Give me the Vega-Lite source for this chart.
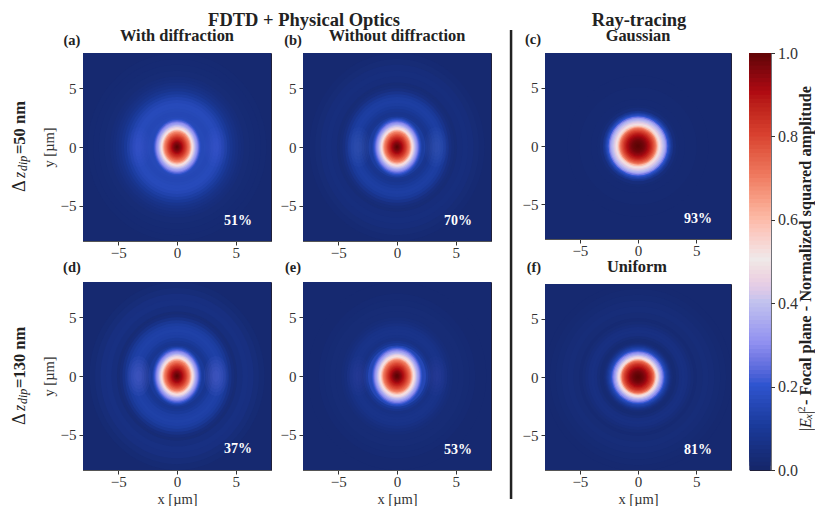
{"$schema":"https://vega.github.io/schema/vega-lite/v6.json","padding":{"left":10,"top":10,"right":0,"bottom":0},"background":"white","spacing":16.5,
"config":{"view":{"stroke":"#20203a","strokeWidth":1},"axis":{"labelFont":"Liberation Serif","titleFont":"Liberation Serif","labelFontSize":15,"titleFontSize":14.5,"titleFontWeight":"normal","labelColor":"#333333","titleColor":"#333333","grid":false,"tickColor":"#333333","tickSize":4,"domainColor":"#555555","values":[-5,0,5],"format":"d"},"axisX":{"labelPadding":0,"titlePadding":3},"axisY":{"labelPadding":3},"text":{"font":"Liberation Serif","color":"#222222"}},
"datasets":{
"a":[{"r":16,"v":0.012},{"r":8,"v":0.015},{"r":7.5,"v":0.018},{"r":7,"v":0.02},{"r":6.5,"v":0.025},{"r":6,"v":0.032},{"r":5.75,"v":0.04},{"r":5.5,"v":0.05},{"r":5.25,"v":0.06},{"r":5,"v":0.075},{"r":4.75,"v":0.095},{"r":4.5,"v":0.115},{"r":4.25,"v":0.135},{"r":4,"v":0.15},{"r":3.75,"v":0.16},{"r":3.5,"v":0.16},{"r":3.25,"v":0.155},{"r":3,"v":0.15},{"r":2.8,"v":0.15},{"r":2.6,"v":0.155},{"r":2.5,"v":0.16},{"r":2.4,"v":0.18},{"r":2.3,"v":0.22},{"r":2.2,"v":0.26},{"r":2.1,"v":0.3},{"r":2,"v":0.33},{"r":1.9,"v":0.37},{"r":1.8,"v":0.41},{"r":1.7,"v":0.46},{"r":1.6,"v":0.51},{"r":1.5,"v":0.57},{"r":1.4,"v":0.635},{"r":1.3,"v":0.69},{"r":1.2,"v":0.72},{"r":1.1,"v":0.755},{"r":1,"v":0.79},{"r":0.9,"v":0.82},{"r":0.8,"v":0.85},{"r":0.7,"v":0.875},{"r":0.6,"v":0.9},{"r":0.5,"v":0.93},{"r":0.4,"v":0.95},{"r":0.3,"v":0.97},{"r":0.2,"v":0.985},{"r":0.1,"v":0.995},{"r":0.05,"v":1}],
"b":[{"r":16,"v":0.012},{"r":8,"v":0.018},{"r":7.5,"v":0.025},{"r":7,"v":0.035},{"r":6.5,"v":0.04},{"r":6,"v":0.035},{"r":5.5,"v":0.025},{"r":5.25,"v":0.03},{"r":5,"v":0.045},{"r":4.75,"v":0.07},{"r":4.5,"v":0.095},{"r":4.25,"v":0.11},{"r":4,"v":0.115},{"r":3.75,"v":0.11},{"r":3.5,"v":0.1},{"r":3.25,"v":0.085},{"r":3,"v":0.075},{"r":2.8,"v":0.08},{"r":2.6,"v":0.11},{"r":2.5,"v":0.14},{"r":2.4,"v":0.175},{"r":2.3,"v":0.215},{"r":2.2,"v":0.255},{"r":2.1,"v":0.295},{"r":2,"v":0.33},{"r":1.9,"v":0.37},{"r":1.8,"v":0.41},{"r":1.7,"v":0.46},{"r":1.6,"v":0.515},{"r":1.5,"v":0.575},{"r":1.4,"v":0.64},{"r":1.3,"v":0.695},{"r":1.2,"v":0.725},{"r":1.1,"v":0.76},{"r":1,"v":0.795},{"r":0.9,"v":0.825},{"r":0.8,"v":0.855},{"r":0.7,"v":0.88},{"r":0.6,"v":0.905},{"r":0.5,"v":0.93},{"r":0.4,"v":0.95},{"r":0.3,"v":0.97},{"r":0.2,"v":0.985},{"r":0.1,"v":0.995},{"r":0.05,"v":1}],
"c":[{"r":16,"v":0.012},{"r":6,"v":0.012},{"r":5,"v":0.015},{"r":4,"v":0.018},{"r":3.5,"v":0.02},{"r":3.25,"v":0.035},{"r":3,"v":0.07},{"r":2.9,"v":0.09},{"r":2.8,"v":0.125},{"r":2.7,"v":0.16},{"r":2.6,"v":0.2},{"r":2.5,"v":0.26},{"r":2.4,"v":0.32},{"r":2.3,"v":0.36},{"r":2.2,"v":0.39},{"r":2.1,"v":0.42},{"r":2,"v":0.45},{"r":1.9,"v":0.485},{"r":1.8,"v":0.54},{"r":1.7,"v":0.6},{"r":1.6,"v":0.68},{"r":1.5,"v":0.73},{"r":1.4,"v":0.77},{"r":1.3,"v":0.805},{"r":1.2,"v":0.84},{"r":1.1,"v":0.87},{"r":1,"v":0.895},{"r":0.9,"v":0.915},{"r":0.8,"v":0.935},{"r":0.7,"v":0.95},{"r":0.6,"v":0.965},{"r":0.5,"v":0.975},{"r":0.4,"v":0.985},{"r":0.3,"v":0.99},{"r":0.2,"v":0.995},{"r":0.1,"v":1}],
"d":[{"r":16,"v":0.012},{"r":8,"v":0.02},{"r":7.5,"v":0.03},{"r":7,"v":0.045},{"r":6.5,"v":0.05},{"r":6,"v":0.04},{"r":5.5,"v":0.025},{"r":5.25,"v":0.035},{"r":5,"v":0.06},{"r":4.75,"v":0.09},{"r":4.5,"v":0.11},{"r":4.25,"v":0.12},{"r":4,"v":0.125},{"r":3.75,"v":0.12},{"r":3.5,"v":0.115},{"r":3.25,"v":0.1},{"r":3,"v":0.085},{"r":2.8,"v":0.08},{"r":2.6,"v":0.1},{"r":2.5,"v":0.13},{"r":2.4,"v":0.17},{"r":2.3,"v":0.215},{"r":2.2,"v":0.255},{"r":2.1,"v":0.295},{"r":2,"v":0.33},{"r":1.9,"v":0.37},{"r":1.8,"v":0.415},{"r":1.7,"v":0.465},{"r":1.6,"v":0.52},{"r":1.5,"v":0.58},{"r":1.4,"v":0.64},{"r":1.3,"v":0.695},{"r":1.2,"v":0.725},{"r":1.1,"v":0.76},{"r":1,"v":0.795},{"r":0.9,"v":0.825},{"r":0.8,"v":0.855},{"r":0.7,"v":0.88},{"r":0.6,"v":0.905},{"r":0.5,"v":0.93},{"r":0.4,"v":0.95},{"r":0.3,"v":0.97},{"r":0.2,"v":0.985},{"r":0.1,"v":0.995},{"r":0.05,"v":1}],
"e":[{"r":16,"v":0.012},{"r":8,"v":0.012},{"r":7,"v":0.018},{"r":6.5,"v":0.02},{"r":6,"v":0.025},{"r":5.5,"v":0.025},{"r":5,"v":0.03},{"r":4.75,"v":0.04},{"r":4.5,"v":0.05},{"r":4.25,"v":0.06},{"r":4,"v":0.065},{"r":3.75,"v":0.065},{"r":3.5,"v":0.06},{"r":3.25,"v":0.055},{"r":3,"v":0.07},{"r":2.8,"v":0.1},{"r":2.6,"v":0.15},{"r":2.5,"v":0.185},{"r":2.4,"v":0.225},{"r":2.3,"v":0.27},{"r":2.2,"v":0.31},{"r":2.1,"v":0.34},{"r":2,"v":0.38},{"r":1.9,"v":0.42},{"r":1.8,"v":0.465},{"r":1.7,"v":0.515},{"r":1.6,"v":0.57},{"r":1.5,"v":0.63},{"r":1.4,"v":0.69},{"r":1.3,"v":0.725},{"r":1.2,"v":0.755},{"r":1.1,"v":0.785},{"r":1,"v":0.815},{"r":0.9,"v":0.845},{"r":0.8,"v":0.87},{"r":0.7,"v":0.895},{"r":0.6,"v":0.915},{"r":0.5,"v":0.94},{"r":0.4,"v":0.96},{"r":0.3,"v":0.975},{"r":0.2,"v":0.99},{"r":0.1,"v":0.998}],
"f":[{"r":16,"v":0.012},{"r":8,"v":0.012},{"r":7.5,"v":0.015},{"r":7,"v":0.02},{"r":6.5,"v":0.027},{"r":6,"v":0.03},{"r":5.5,"v":0.025},{"r":5,"v":0.018},{"r":4.75,"v":0.025},{"r":4.5,"v":0.035},{"r":4.25,"v":0.045},{"r":4,"v":0.05},{"r":3.75,"v":0.045},{"r":3.5,"v":0.03},{"r":3.25,"v":0.02},{"r":3,"v":0.025},{"r":2.9,"v":0.035},{"r":2.8,"v":0.05},{"r":2.7,"v":0.075},{"r":2.6,"v":0.1},{"r":2.5,"v":0.125},{"r":2.4,"v":0.15},{"r":2.3,"v":0.2},{"r":2.2,"v":0.25},{"r":2.1,"v":0.3},{"r":2,"v":0.34},{"r":1.9,"v":0.385},{"r":1.8,"v":0.43},{"r":1.7,"v":0.48},{"r":1.6,"v":0.54},{"r":1.5,"v":0.63},{"r":1.4,"v":0.72},{"r":1.3,"v":0.765},{"r":1.2,"v":0.805},{"r":1.1,"v":0.84},{"r":1,"v":0.87},{"r":0.9,"v":0.895},{"r":0.8,"v":0.92},{"r":0.7,"v":0.94},{"r":0.6,"v":0.955},{"r":0.5,"v":0.97},{"r":0.4,"v":0.98},{"r":0.3,"v":0.99},{"r":0.2,"v":0.995},{"r":0.1,"v":1}],
"lobes":[{"x":-3.25,"r":1.7},{"x":3.3,"r":1.7},{"x":-3.25,"r":1.4},{"x":3.3,"r":1.4},{"x":-3.25,"r":1.1},{"x":3.3,"r":1.1},{"x":-3.25,"r":0.8},{"x":3.3,"r":0.8},{"x":-3.25,"r":0.5},{"x":3.3,"r":0.5}],
"ramp":[{"v":0},{"v":0.01},{"v":0.02},{"v":0.03},{"v":0.04},{"v":0.05},{"v":0.06},{"v":0.07},{"v":0.08},{"v":0.09},{"v":0.1},{"v":0.11},{"v":0.12},{"v":0.13},{"v":0.14},{"v":0.15},{"v":0.16},{"v":0.17},{"v":0.18},{"v":0.19},{"v":0.2},{"v":0.21},{"v":0.22},{"v":0.23},{"v":0.24},{"v":0.25},{"v":0.26},{"v":0.27},{"v":0.28},{"v":0.29},{"v":0.3},{"v":0.31},{"v":0.32},{"v":0.33},{"v":0.34},{"v":0.35},{"v":0.36},{"v":0.37},{"v":0.38},{"v":0.39},{"v":0.4},{"v":0.41},{"v":0.42},{"v":0.43},{"v":0.44},{"v":0.45},{"v":0.46},{"v":0.47},{"v":0.48},{"v":0.49},{"v":0.5},{"v":0.51},{"v":0.52},{"v":0.53},{"v":0.54},{"v":0.55},{"v":0.56},{"v":0.57},{"v":0.58},{"v":0.59},{"v":0.6},{"v":0.61},{"v":0.62},{"v":0.63},{"v":0.64},{"v":0.65},{"v":0.66},{"v":0.67},{"v":0.68},{"v":0.69},{"v":0.7},{"v":0.71},{"v":0.72},{"v":0.73},{"v":0.74},{"v":0.75},{"v":0.76},{"v":0.77},{"v":0.78},{"v":0.79},{"v":0.8},{"v":0.81},{"v":0.82},{"v":0.83},{"v":0.84},{"v":0.85},{"v":0.86},{"v":0.87},{"v":0.88},{"v":0.89},{"v":0.9},{"v":0.91},{"v":0.92},{"v":0.93},{"v":0.94},{"v":0.95},{"v":0.96},{"v":0.97},{"v":0.98},{"v":0.99}]
},
"hconcat":[
{"spacing":17,"hconcat":[
{"spacing":-65,"hconcat":[
{"bounds":"flush","spacing":41,"vconcat":[
{"width":188,"height":188,"layer":[
{"data":{"name":"a"},"encoding":{"x":{"datum":0,"type":"quantitative","scale":{"domain":[-8,8],"nice":false},"axis":{"title":null}},"y":{"datum":0,"type":"quantitative","scale":{"domain":[-8,8],"nice":false},"axis":{"title":"y [µm]"}},"size":{"field":"r","type":"quantitative","legend":null,"scale":{"type":"pow","exponent":2,"domain":[0,12],"range":[0,79524]}},"color":{"field":"v","type":"quantitative","legend":null,"scale":{"domain":[0,0.1,0.2,0.3,0.4,0.5,0.6,0.7,0.8,0.9,1],"range":["#15276b","#1a3a9a","#2f55d0","#9090f0","#c3c3ee","#efe9e9","#fcb9a5","#ef7a60","#d8402f","#b00b12","#5c0505"]}}},"layer":[
{"transform":[{"filter":"datum.r>2.5"}],"mark":{"type":"point","filled":true,"opacity":1,"strokeWidth":0,"clip":true,"shape":"M0,-1A0.95,1 0 1,1 0,1A0.95,1 0 1,1 0,-1Z"}},
{"transform":[{"filter":"datum.r<=2.5"}],"mark":{"type":"point","filled":true,"opacity":1,"strokeWidth":0,"clip":true,"shape":"M0,-1A0.84,1 0 1,1 0,1A0.84,1 0 1,1 0,-1Z"}}]},
{"data":{"name":"lobes"},"mark":{"type":"point","filled":true,"opacity":0.03,"strokeWidth":0,"fill":"#7a80f0","shape":"M0,-1A0.6,1 0 1,1 0,1A0.6,1 0 1,1 0,-1Z"},"encoding":{"x":{"field":"x","type":"quantitative"},"y":{"datum":0,"type":"quantitative"},"size":{"field":"r","type":"quantitative"}}},
{"data":{"values":[{"x":-8.94,"y":9.06,"t":"(a)"}]},"mark":{"type":"text","fontWeight":"bold","fontSize":14.5},"encoding":{"x":{"field":"x","type":"quantitative"},"y":{"field":"y","type":"quantitative"},"text":{"field":"t"}}},
{"data":{"values":[{"x":0,"y":9.45,"t":"With diffraction"}]},"mark":{"type":"text","fontWeight":"bold","fontSize":16.4},"encoding":{"x":{"field":"x","type":"quantitative"},"y":{"field":"y","type":"quantitative"},"text":{"field":"t"}}},
{"data":{"values":[{"x":0,"y":10.81,"t":"."}]},"mark":{"type":"text","fontWeight":"bold","fontSize":18.5,"opacity":0},"encoding":{"x":{"field":"x","type":"quantitative"},"y":{"field":"y","type":"quantitative"},"text":{"field":"t"}}},
{"data":{"values":[{"x":5.19,"y":-6.3,"t":"51%"}]},"mark":{"type":"text","fontWeight":"bold","fontSize":14,"color":"white"},"encoding":{"x":{"field":"x","type":"quantitative"},"y":{"field":"y","type":"quantitative"},"text":{"field":"t"}}},
{"data":{"values":[{"x":-13.36,"y":-3.83,"t":"Δ"}]},"mark":{"type":"text","angle":270,"align":"left","fontSize":18},"encoding":{"x":{"field":"x","type":"quantitative"},"y":{"field":"y","type":"quantitative"},"text":{"field":"t"}}},
{"data":{"values":[{"x":-13.36,"y":-2.64,"t":"z"}]},"mark":{"type":"text","angle":270,"align":"left","fontSize":16,"fontStyle":"italic"},"encoding":{"x":{"field":"x","type":"quantitative"},"y":{"field":"y","type":"quantitative"},"text":{"field":"t"}}},
{"data":{"values":[{"x":-13.1,"y":-2.04,"t":"dip"}]},"mark":{"type":"text","angle":270,"align":"left","fontSize":12,"fontStyle":"italic"},"encoding":{"x":{"field":"x","type":"quantitative"},"y":{"field":"y","type":"quantitative"},"text":{"field":"t"}}},
{"data":{"values":[{"x":-13.36,"y":-0.6,"t":"=50 nm"}]},"mark":{"type":"text","angle":270,"align":"left","fontSize":16.5,"fontWeight":"bold"},"encoding":{"x":{"field":"x","type":"quantitative"},"y":{"field":"y","type":"quantitative"},"text":{"field":"t"}}}
]},
{"width":188,"height":188,"layer":[
{"data":{"name":"d"},"encoding":{"x":{"datum":0,"type":"quantitative","scale":{"domain":[-8,8],"nice":false},"axis":{"title":"x [µm]"}},"y":{"datum":0,"type":"quantitative","scale":{"domain":[-8,8],"nice":false},"axis":{"title":"y [µm]"}},"size":{"field":"r","type":"quantitative","legend":null,"scale":{"type":"pow","exponent":2,"domain":[0,12],"range":[0,79524]}},"color":{"field":"v","type":"quantitative","legend":null,"scale":{"domain":[0,0.1,0.2,0.3,0.4,0.5,0.6,0.7,0.8,0.9,1],"range":["#15276b","#1a3a9a","#2f55d0","#9090f0","#c3c3ee","#efe9e9","#fcb9a5","#ef7a60","#d8402f","#b00b12","#5c0505"]}}},"layer":[
{"transform":[{"filter":"datum.r>2.5"}],"mark":{"type":"point","filled":true,"opacity":1,"strokeWidth":0,"clip":true,"shape":"M0,-1A0.93,1 0 1,1 0,1A0.93,1 0 1,1 0,-1Z"}},
{"transform":[{"filter":"datum.r<=2.5"}],"mark":{"type":"point","filled":true,"opacity":1,"strokeWidth":0,"clip":true,"shape":"M0,-1A0.84,1 0 1,1 0,1A0.84,1 0 1,1 0,-1Z"}}]},
{"data":{"name":"lobes"},"mark":{"type":"point","filled":true,"opacity":0.07,"strokeWidth":0,"fill":"#7a80f0","shape":"M0,-1A0.6,1 0 1,1 0,1A0.6,1 0 1,1 0,-1Z"},"encoding":{"x":{"field":"x","type":"quantitative"},"y":{"datum":0,"type":"quantitative"},"size":{"field":"r","type":"quantitative"}}},
{"data":{"values":[{"x":-8.94,"y":9.19,"t":"(d)"}]},"mark":{"type":"text","fontWeight":"bold","fontSize":14.5},"encoding":{"x":{"field":"x","type":"quantitative"},"y":{"field":"y","type":"quantitative"},"text":{"field":"t"}}},
{"data":{"values":[{"x":5.19,"y":-6.21,"t":"37%"}]},"mark":{"type":"text","fontWeight":"bold","fontSize":14,"color":"white"},"encoding":{"x":{"field":"x","type":"quantitative"},"y":{"field":"y","type":"quantitative"},"text":{"field":"t"}}},
{"data":{"values":[{"x":-13.36,"y":-4.17,"t":"Δ"}]},"mark":{"type":"text","angle":270,"align":"left","fontSize":18},"encoding":{"x":{"field":"x","type":"quantitative"},"y":{"field":"y","type":"quantitative"},"text":{"field":"t"}}},
{"data":{"values":[{"x":-13.36,"y":-2.98,"t":"z"}]},"mark":{"type":"text","angle":270,"align":"left","fontSize":16,"fontStyle":"italic"},"encoding":{"x":{"field":"x","type":"quantitative"},"y":{"field":"y","type":"quantitative"},"text":{"field":"t"}}},
{"data":{"values":[{"x":-13.1,"y":-2.38,"t":"dip"}]},"mark":{"type":"text","angle":270,"align":"left","fontSize":12,"fontStyle":"italic"},"encoding":{"x":{"field":"x","type":"quantitative"},"y":{"field":"y","type":"quantitative"},"text":{"field":"t"}}},
{"data":{"values":[{"x":-13.36,"y":-1.02,"t":"=130 nm"}]},"mark":{"type":"text","angle":270,"align":"left","fontSize":16.5,"fontWeight":"bold"},"encoding":{"x":{"field":"x","type":"quantitative"},"y":{"field":"y","type":"quantitative"},"text":{"field":"t"}}}
]}
]},
{"bounds":"flush","spacing":41,"vconcat":[
{"width":188,"height":188,"layer":[
{"data":{"name":"b"},"encoding":{"x":{"datum":0,"type":"quantitative","scale":{"domain":[-8,8],"nice":false},"axis":{"title":null}},"y":{"datum":0,"type":"quantitative","scale":{"domain":[-8,8],"nice":false},"axis":{"title":null}},"size":{"field":"r","type":"quantitative","legend":null,"scale":{"type":"pow","exponent":2,"domain":[0,12],"range":[0,79524]}},"color":{"field":"v","type":"quantitative","legend":null,"scale":{"domain":[0,0.1,0.2,0.3,0.4,0.5,0.6,0.7,0.8,0.9,1],"range":["#15276b","#1a3a9a","#2f55d0","#9090f0","#c3c3ee","#efe9e9","#fcb9a5","#ef7a60","#d8402f","#b00b12","#5c0505"]}}},"layer":[
{"transform":[{"filter":"datum.r>2.5"}],"mark":{"type":"point","filled":true,"opacity":1,"strokeWidth":0,"clip":true,"shape":"M0,-1A0.93,1 0 1,1 0,1A0.93,1 0 1,1 0,-1Z"}},
{"transform":[{"filter":"datum.r<=2.5"}],"mark":{"type":"point","filled":true,"opacity":1,"strokeWidth":0,"clip":true,"shape":"M0,-1A0.84,1 0 1,1 0,1A0.84,1 0 1,1 0,-1Z"}}]},
{"data":{"name":"lobes"},"mark":{"type":"point","filled":true,"opacity":0.045,"strokeWidth":0,"fill":"#7a80f0","shape":"M0,-1A0.6,1 0 1,1 0,1A0.6,1 0 1,1 0,-1Z"},"encoding":{"x":{"field":"x","type":"quantitative"},"y":{"datum":0,"type":"quantitative"},"size":{"field":"r","type":"quantitative"}}},
{"data":{"values":[{"x":-8.85,"y":9.06,"t":"(b)"}]},"mark":{"type":"text","fontWeight":"bold","fontSize":14.5},"encoding":{"x":{"field":"x","type":"quantitative"},"y":{"field":"y","type":"quantitative"},"text":{"field":"t"}}},
{"data":{"values":[{"x":0,"y":9.45,"t":"Without diffraction"}]},"mark":{"type":"text","fontWeight":"bold","fontSize":16.4},"encoding":{"x":{"field":"x","type":"quantitative"},"y":{"field":"y","type":"quantitative"},"text":{"field":"t"}}},
{"data":{"values":[{"x":-7.91,"y":10.81,"t":"FDTD + Physical Optics"}]},"mark":{"type":"text","fontWeight":"bold","fontSize":18.5},"encoding":{"x":{"field":"x","type":"quantitative"},"y":{"field":"y","type":"quantitative"},"text":{"field":"t"}}},
{"data":{"values":[{"x":5.19,"y":-6.3,"t":"70%"}]},"mark":{"type":"text","fontWeight":"bold","fontSize":14,"color":"white"},"encoding":{"x":{"field":"x","type":"quantitative"},"y":{"field":"y","type":"quantitative"},"text":{"field":"t"}}}
]},
{"width":188,"height":188,"layer":[
{"data":{"name":"e"},"encoding":{"x":{"datum":0,"type":"quantitative","scale":{"domain":[-8,8],"nice":false},"axis":{"title":"x [µm]"}},"y":{"datum":0,"type":"quantitative","scale":{"domain":[-8,8],"nice":false},"axis":{"title":null}},"size":{"field":"r","type":"quantitative","legend":null,"scale":{"type":"pow","exponent":2,"domain":[0,12],"range":[0,79524]}},"color":{"field":"v","type":"quantitative","legend":null,"scale":{"domain":[0,0.1,0.2,0.3,0.4,0.5,0.6,0.7,0.8,0.9,1],"range":["#15276b","#1a3a9a","#2f55d0","#9090f0","#c3c3ee","#efe9e9","#fcb9a5","#ef7a60","#d8402f","#b00b12","#5c0505"]}}},"layer":[
{"transform":[{"filter":"datum.r>2.5"}],"mark":{"type":"point","filled":true,"opacity":1,"strokeWidth":0,"clip":true,"shape":"M0,-1A0.95,1 0 1,1 0,1A0.95,1 0 1,1 0,-1Z"}},
{"transform":[{"filter":"datum.r<=2.5"}],"mark":{"type":"point","filled":true,"opacity":1,"strokeWidth":0,"clip":true,"shape":"M0,-1A0.86,1 0 1,1 0,1A0.86,1 0 1,1 0,-1Z"}}]},
{"data":{"name":"lobes"},"mark":{"type":"point","filled":true,"opacity":0.025,"strokeWidth":0,"fill":"#7a80f0","shape":"M0,-1A0.6,1 0 1,1 0,1A0.6,1 0 1,1 0,-1Z"},"encoding":{"x":{"field":"x","type":"quantitative"},"y":{"datum":0,"type":"quantitative"},"size":{"field":"r","type":"quantitative"}}},
{"data":{"values":[{"x":-8.85,"y":9.19,"t":"(e)"}]},"mark":{"type":"text","fontWeight":"bold","fontSize":14.5},"encoding":{"x":{"field":"x","type":"quantitative"},"y":{"field":"y","type":"quantitative"},"text":{"field":"t"}}},
{"data":{"values":[{"x":5.19,"y":-6.3,"t":"53%"}]},"mark":{"type":"text","fontWeight":"bold","fontSize":14,"color":"white"},"encoding":{"x":{"field":"x","type":"quantitative"},"y":{"field":"y","type":"quantitative"},"text":{"field":"t"}}}
]}
]}
]},
{"bounds":"flush","spacing":45,"vconcat":[
{"width":186,"height":186,"layer":[
{"data":{"name":"c"},"mark":{"type":"point","filled":true,"opacity":1,"strokeWidth":0,"clip":true,"shape":"circle"},"encoding":{"x":{"datum":0,"type":"quantitative","scale":{"domain":[-8,8],"nice":false},"axis":{"title":null}},"y":{"datum":0,"type":"quantitative","scale":{"domain":[-8,8],"nice":false},"axis":{"title":null}},"size":{"field":"r","type":"quantitative","legend":null,"scale":{"type":"pow","exponent":2,"domain":[0,12],"range":[0,77841]}},"color":{"field":"v","type":"quantitative","legend":null,"scale":{"domain":[0,0.1,0.2,0.3,0.4,0.5,0.6,0.7,0.8,0.9,1],"range":["#15276b","#1a3a9a","#2f55d0","#9090f0","#c3c3ee","#efe9e9","#fcb9a5","#ef7a60","#d8402f","#b00b12","#5c0505"]}}}},
{"data":{"values":[{"x":-9.03,"y":9.08,"t":"(c)"}]},"mark":{"type":"text","fontWeight":"bold","fontSize":14.5},"encoding":{"x":{"field":"x","type":"quantitative"},"y":{"field":"y","type":"quantitative"},"text":{"field":"t"}}},
{"data":{"values":[{"x":0,"y":9.46,"t":"Gaussian"}]},"mark":{"type":"text","fontWeight":"bold","fontSize":16.4},"encoding":{"x":{"field":"x","type":"quantitative"},"y":{"field":"y","type":"quantitative"},"text":{"field":"t"}}},
{"data":{"values":[{"x":0.09,"y":10.84,"t":"Ray-tracing"}]},"mark":{"type":"text","fontWeight":"bold","fontSize":18.5},"encoding":{"x":{"field":"x","type":"quantitative"},"y":{"field":"y","type":"quantitative"},"text":{"field":"t"}}},
{"data":{"values":[{"x":5.16,"y":-6.28,"t":"93%"}]},"mark":{"type":"text","fontWeight":"bold","fontSize":14,"color":"white"},"encoding":{"x":{"field":"x","type":"quantitative"},"y":{"field":"y","type":"quantitative"},"text":{"field":"t"}}},
{"data":{"values":[{"x":-10.92,"y":9.98,"y2":-30.37}]},"mark":{"type":"rule","color":"#222222","strokeWidth":2.5},"encoding":{"x":{"field":"x","type":"quantitative"},"y":{"field":"y","type":"quantitative"},"y2":{"field":"y2"}}}
]},
{"width":186,"height":186,"layer":[
{"data":{"name":"f"},"mark":{"type":"point","filled":true,"opacity":1,"strokeWidth":0,"clip":true,"shape":"circle"},"encoding":{"x":{"datum":0,"type":"quantitative","scale":{"domain":[-8,8],"nice":false},"axis":{"title":"x [µm]"}},"y":{"datum":0,"type":"quantitative","scale":{"domain":[-8,8],"nice":false},"axis":{"title":null}},"size":{"field":"r","type":"quantitative","legend":null,"scale":{"type":"pow","exponent":2,"domain":[0,12],"range":[0,77841]}},"color":{"field":"v","type":"quantitative","legend":null,"scale":{"domain":[0,0.1,0.2,0.3,0.4,0.5,0.6,0.7,0.8,0.9,1],"range":["#15276b","#1a3a9a","#2f55d0","#9090f0","#c3c3ee","#efe9e9","#fcb9a5","#ef7a60","#d8402f","#b00b12","#5c0505"]}}}},
{"data":{"values":[{"x":-8.95,"y":9.38,"t":"(f)"}]},"mark":{"type":"text","fontWeight":"bold","fontSize":14.5},"encoding":{"x":{"field":"x","type":"quantitative"},"y":{"field":"y","type":"quantitative"},"text":{"field":"t"}}},
{"data":{"values":[{"x":-0.09,"y":9.46,"t":"Uniform"}]},"mark":{"type":"text","fontWeight":"bold","fontSize":16.4},"encoding":{"x":{"field":"x","type":"quantitative"},"y":{"field":"y","type":"quantitative"},"text":{"field":"t"}}},
{"data":{"values":[{"x":5.16,"y":-6.28,"t":"81%"}]},"mark":{"type":"text","fontWeight":"bold","fontSize":14,"color":"white"},"encoding":{"x":{"field":"x","type":"quantitative"},"y":{"field":"y","type":"quantitative"},"text":{"field":"t"}}}
]}
]}
]},
{"width":21,"height":417,"layer":[
{"data":{"name":"ramp"},"mark":{"type":"rect"},"encoding":{"y":{"field":"v","type":"quantitative","scale":{"domain":[0,1],"nice":false},"axis":{"orient":"right","title":null,"values":[0,0.2,0.4,0.6,0.8,1],"format":".1f","labelFontSize":16}},"y2":{"datum":1},"color":{"field":"v","type":"quantitative","legend":null,"scale":{"domain":[0,0.1,0.2,0.3,0.4,0.5,0.6,0.7,0.8,0.9,1],"range":["#15276b","#1a3a9a","#2f55d0","#9090f0","#c3c3ee","#efe9e9","#fcb9a5","#ef7a60","#d8402f","#b00b12","#5c0505"]}}}},
{"data":{"values":[{"x":0.5,"y":1.079,"t":"."}]},"mark":{"type":"text","fontWeight":"bold","fontSize":18.5,"opacity":0},"encoding":{"x":{"field":"x","type":"quantitative","scale":{"domain":[0,1],"nice":false},"axis":null},"y":{"field":"y","type":"quantitative"},"text":{"field":"t"}}},
{"data":{"values":[{"x":2.67,"y":0.0935,"t":"|"},{"x":2.67,"y":0.1343,"t":"|"}]},"mark":{"type":"text","angle":270,"align":"left","fontSize":16},"encoding":{"x":{"field":"x","type":"quantitative"},"y":{"field":"y","type":"quantitative"},"text":{"field":"t"}}},
{"data":{"values":[{"x":2.67,"y":0.1007,"t":"E"}]},"mark":{"type":"text","angle":270,"align":"left","fontSize":16,"fontStyle":"italic"},"encoding":{"x":{"field":"x","type":"quantitative"},"y":{"field":"y","type":"quantitative"},"text":{"field":"t"}}},
{"data":{"values":[{"x":2.81,"y":0.1223,"t":"x"}]},"mark":{"type":"text","angle":270,"align":"left","fontSize":11,"fontStyle":"italic"},"encoding":{"x":{"field":"x","type":"quantitative"},"y":{"field":"y","type":"quantitative"},"text":{"field":"t"}}},
{"data":{"values":[{"x":2.48,"y":0.139,"t":"2"}]},"mark":{"type":"text","angle":270,"align":"left","fontSize":11},"encoding":{"x":{"field":"x","type":"quantitative"},"y":{"field":"y","type":"quantitative"},"text":{"field":"t"}}},
{"data":{"values":[{"x":2.67,"y":0.156,"t":"- Focal plane - Normalized squared amplitude"}]},"mark":{"type":"text","angle":270,"align":"left","fontSize":16.3,"fontWeight":"bold"},"encoding":{"x":{"field":"x","type":"quantitative"},"y":{"field":"y","type":"quantitative"},"text":{"field":"t"}}}
]}
]}
